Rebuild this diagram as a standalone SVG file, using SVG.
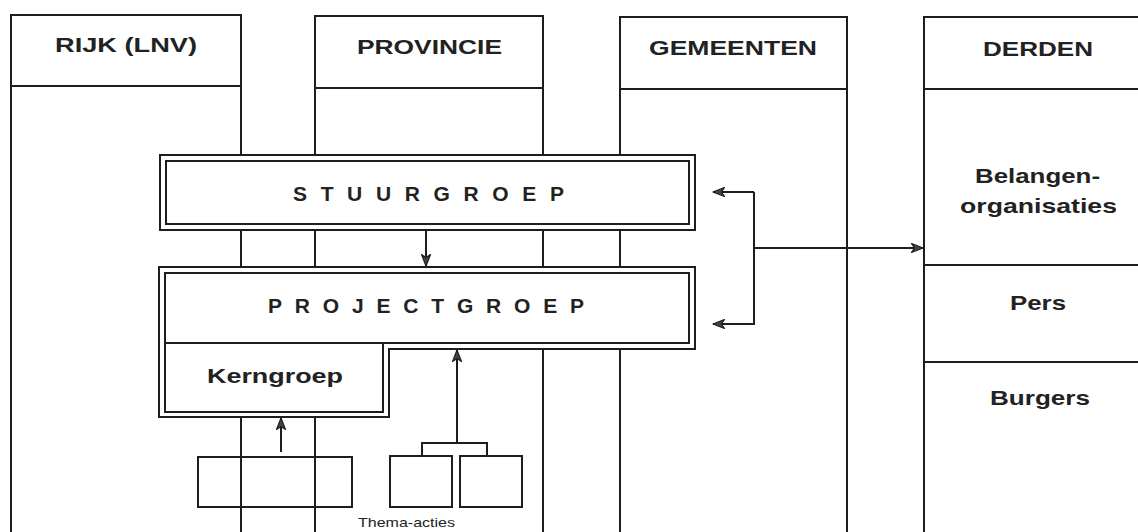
<svg xmlns="http://www.w3.org/2000/svg" width="1138" height="532" viewBox="0 0 1138 532">
<style>
.ln{fill:none;stroke:#1e1e1e;stroke-width:2}
.bx{fill:#fff;stroke:#1e1e1e;stroke-width:2}
.t{font-family:"Liberation Sans",Arial,sans-serif;font-weight:bold;fill:#222}
.h{font-size:21px}
.c{stroke:#1e1e1e;stroke-width:2;fill:none}
</style>
<defs>
<marker id="ah" viewBox="0 0 13 11" refX="12" refY="5.5" markerWidth="13" markerHeight="11" markerUnits="userSpaceOnUse" orient="auto">
<path d="M0.5,1 L12,5.5 L0.5,10 L3.5,5.5 Z" fill="#444" stroke="#1e1e1e" stroke-width="1.2" stroke-linejoin="round"/>
</marker>
</defs>
<rect width="1138" height="532" fill="#fff"/>

<g id="col-rijk">
<path class="ln" d="M11,532 V15 H241 V532 M11,86 H241"/>
<text class="t h" x="55" y="52" textLength="142" lengthAdjust="spacingAndGlyphs">RIJK (LNV)</text>
</g>
<g id="col-provincie">
<path class="ln" d="M315,532 V16 H543 V532 M315,88 H543"/>
<text class="t h" x="357" y="54" textLength="145" lengthAdjust="spacingAndGlyphs">PROVINCIE</text>
</g>
<g id="col-gemeenten">
<path class="ln" d="M620,532 V17 H847 V532 M620,89 H847"/>
<text class="t h" x="649" y="55" textLength="168" lengthAdjust="spacingAndGlyphs">GEMEENTEN</text>
</g>
<g id="col-derden">
<path class="ln" d="M924,532 V17 H1138 M924,89 H1138 M924,265 H1138 M924,362 H1138"/>
<text class="t h" x="983" y="56" textLength="110" lengthAdjust="spacingAndGlyphs">DERDEN</text>
<text class="t h" x="975" y="183" textLength="125" lengthAdjust="spacingAndGlyphs">Belangen-</text>
<text class="t h" x="960" y="213" textLength="157" lengthAdjust="spacingAndGlyphs">organisaties</text>
<text class="t h" x="1010" y="310" textLength="56" lengthAdjust="spacingAndGlyphs">Pers</text>
<text class="t h" x="990" y="405" textLength="100" lengthAdjust="spacingAndGlyphs">Burgers</text>
</g>

<g id="stuurgroep">
<rect class="bx" x="160" y="155" width="535" height="75"/>
<rect class="ln" x="166" y="161" width="523" height="63"/>
<text class="t" font-size="21" x="293" y="201" textLength="271" lengthAdjust="spacing">STUURGROEP</text>
</g>

<g id="projectgroep">
<path class="bx" d="M159,267 H695 V349 H389 V417 H159 Z"/>
<path class="ln" d="M165,273 H689 V343 H383 V412 H165 Z M165,343 H383"/>
<text class="t" font-size="21" x="268" y="313" textLength="316" lengthAdjust="spacing">PROJECTGROEP</text>
</g>

<g id="kerngroep">
<text class="t h" x="207" y="383" textLength="136" lengthAdjust="spacingAndGlyphs">Kerngroep</text>
</g>

<g id="bottom-box">
<rect class="ln" x="198" y="457" width="154" height="50"/>
</g>
<g id="thema-box-1">
<rect class="ln" x="390" y="456" width="62" height="51"/>
</g>
<g id="thema-box-2">
<rect class="ln" x="460" y="456" width="62" height="51"/>
</g>
<g id="thema-label">
<text x="358" y="527" font-family="'Liberation Sans',Arial,sans-serif" font-size="13" fill="#222" textLength="97" lengthAdjust="spacingAndGlyphs">Thema-acties</text>
</g>

<g id="connectors">
<path class="c" d="M241,230 V267 M315,230 V267 M543,230 V267 M620,230 V267 M241,417 V532 M315,417 V532 M543,349 V532 M620,349 V532"/>
<line class="c" x1="426" y1="230" x2="426" y2="266" marker-end="url(#ah)"/>
<line class="c" x1="281" y1="452" x2="281" y2="418" marker-end="url(#ah)"/>
<path class="c" d="M422,456 V443 H487 V456"/>
<line class="c" x1="457" y1="443" x2="457" y2="350" marker-end="url(#ah)"/>
<path class="c" d="M754,192 H713" marker-end="url(#ah)"/>
<path class="c" d="M754,192 V324 H713" marker-end="url(#ah)"/>
<line class="c" x1="754" y1="248" x2="923" y2="248" marker-end="url(#ah)"/>
</g>
</svg>
